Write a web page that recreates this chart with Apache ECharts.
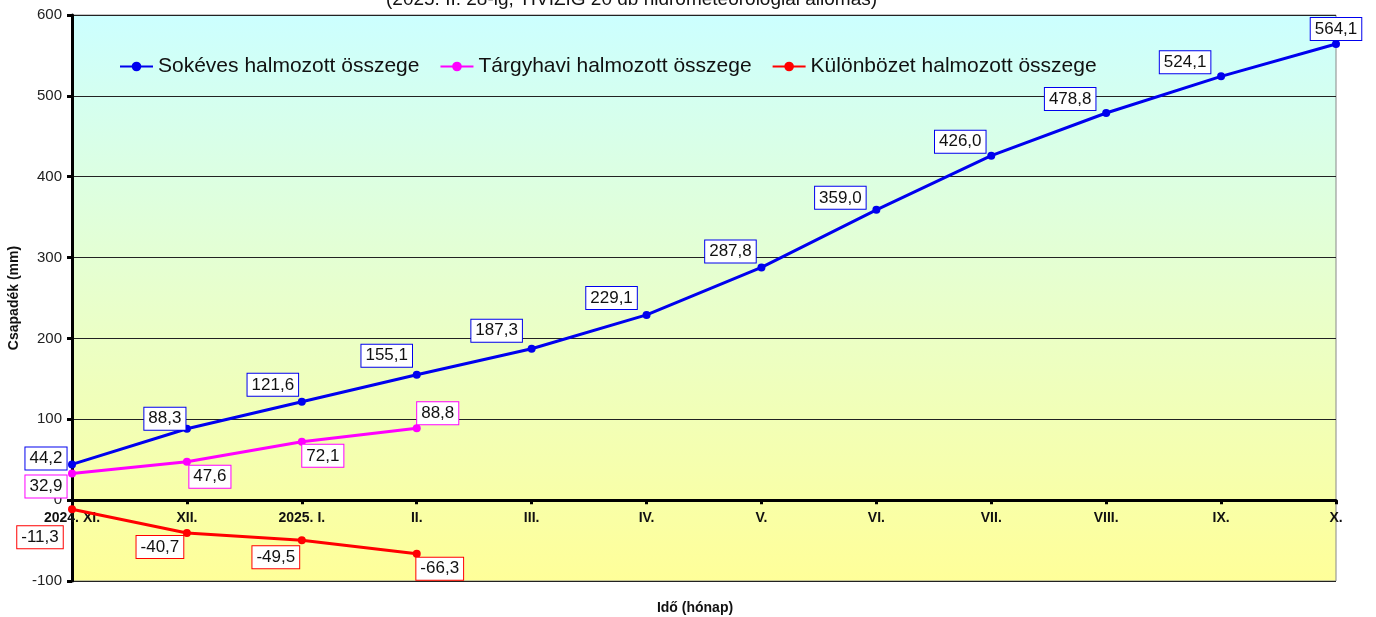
<!DOCTYPE html>
<html lang="hu">
<head>
<meta charset="UTF-8">
<title>Csapadék halmozott összege</title>
<script src="https://cdn.jsdelivr.net/npm/echarts@6/dist/echarts.min.js"></script>
<style>
  html, body { margin: 0; padding: 0; background: #fff; }
  #chart { width: 1376px; height: 617px; }
</style>
</head>
<body>
<div id="chart"></div>
<script>
// adatok
var months = ['2024. XI.', 'XII.', '2025. I.', 'II.', 'III.', 'IV.', 'V.', 'VI.', 'VII.', 'VIII.', 'IX.', 'X.'];
var sokeves = [44.2, 88.3, 121.6, 155.1, 187.3, 229.1, 287.8, 359.0, 426.0, 478.8, 524.1, 564.1];
var targyhavi = [32.9, 47.6, 72.1, 88.8];
var kulonbozet = [-11.3, -40.7, -49.5, -66.3];

// címkék eltolása a pontokhoz képest
var blueOffsets = [[-26, -6], [-22, -10], [-29, -17], [-30, -19], [-35, -18], [-35, -17], [-31, -16], [-36, -12], [-31, -14], [-36, -14], [-36, -14], [0, -15]];
var pinkOffsets = [[-26, 13], [23, 15], [21, 14], [21, -15]];
var redOffsets = [[-32, 28], [-27, 14], [-26, 17], [23, 15]];

var FONT = '"Liberation Sans", Arial, sans-serif';

function fmt(v) {
    return v.toFixed(1).replace('.', ',');
}

function withLabels(values, offsets, color) {
    return values.map(function (v, i) {
        return {
            value: v,
            label: {
                show: true,
                position: 'inside',
                offset: offsets[i],
                formatter: function (p) { return fmt(p.value); },
                color: '#111',
                fontSize: 17,
                fontFamily: FONT,
                backgroundColor: '#fff',
                borderColor: color,
                borderWidth: 1,
                padding: [3, 4, 2, 4]
            }
        };
    });
}

function lineSeries(name, values, offsets, color) {
    return {
        name: name,
        type: 'line',
        data: withLabels(values, offsets, color),
        symbol: 'circle',
        symbolSize: 8,
        color: color,
        lineStyle: { color: color, width: 3 },
        itemStyle: { color: color },
        animation: false,
        z: 3
    };
}

var myChart = echarts.init(document.getElementById('chart'));

var GRID_H = 617 - 15 - 36;
var yMin = -100, yMax = 600;
// az x tengely a 0 szintjén fut
var zeroShift = -GRID_H * (0 - yMin) / (yMax - yMin);

var option = {
    animation: false,
    textStyle: { fontFamily: FONT },
    graphic: [{
        type: 'text',
        left: 676 - 290,
        top: -10,
        style: {
            text: '(2025. II. 28-ig, TIVIZIG 20 db hidrometeorológiai állomás)',
            font: '19px ' + FONT,
            fill: '#111'
        }
    }],
    legend: {
        left: 114,
        top: 51,
        itemWidth: 33,
        itemHeight: 12,
        itemGap: 20,
        textStyle: { fontSize: 21, color: '#111', fontFamily: FONT },
        data: ['Sokéves halmozott összege', 'Tárgyhavi halmozott összege', 'Különbözet halmozott összege']
    },
    grid: {
        left: 72,
        right: 40,
        top: 15,
        bottom: 36,
        outerBoundsMode: 'none',
        containLabel: false,
        show: true,
        borderColor: '#888',
        borderWidth: 1,
        backgroundColor: new echarts.graphic.LinearGradient(0, 0, 0, 1, [
            { offset: 0, color: '#ccffff' },
            { offset: 0.5, color: '#e8ffcc' },
            { offset: 1, color: '#ffff99' }
        ])
    },
    xAxis: {
        type: 'category',
        data: months,
        boundaryGap: false,
        position: 'bottom',
        offset: zeroShift,
        name: 'Idő (hónap)',
        nameLocation: 'middle',
        nameGap: 101,
        nameTextStyle: { fontWeight: 'bold', fontSize: 14, color: '#111', padding: [0, 18, 0, 0] },
        axisLine: { onZero: false, lineStyle: { color: '#000', width: 3 } },
        axisTick: { show: true, length: 4, inside: false, lineStyle: { color: '#000', width: 3 } },
        axisLabel: { fontWeight: 'bold', fontSize: 14, color: '#111', margin: 11 },
        splitLine: { show: false }
    },
    yAxis: {
        type: 'value',
        min: yMin,
        max: yMax,
        interval: 100,
        name: 'Csapadék (mm)',
        nameLocation: 'middle',
        nameGap: 41,
        nameTextStyle: { fontWeight: 'bold', fontSize: 14, color: '#111' },
        axisLine: { show: true, onZero: false, lineStyle: { color: '#000', width: 3 } },
        axisTick: { show: true, length: 5, lineStyle: { color: '#000', width: 3 } },
        axisLabel: { fontSize: 15, color: '#222', margin: 10 },
        splitLine: { show: true, lineStyle: { color: '#222', width: 1 } }
    },
    series: [
        lineSeries('Sokéves halmozott összege', sokeves, blueOffsets, '#0000ee'),
        lineSeries('Tárgyhavi halmozott összege', targyhavi, pinkOffsets, '#ff00ff'),
        lineSeries('Különbözet halmozott összege', kulonbozet, redOffsets, '#ff0000')
    ]
};

myChart.setOption(option);
</script>
</body>
</html>
